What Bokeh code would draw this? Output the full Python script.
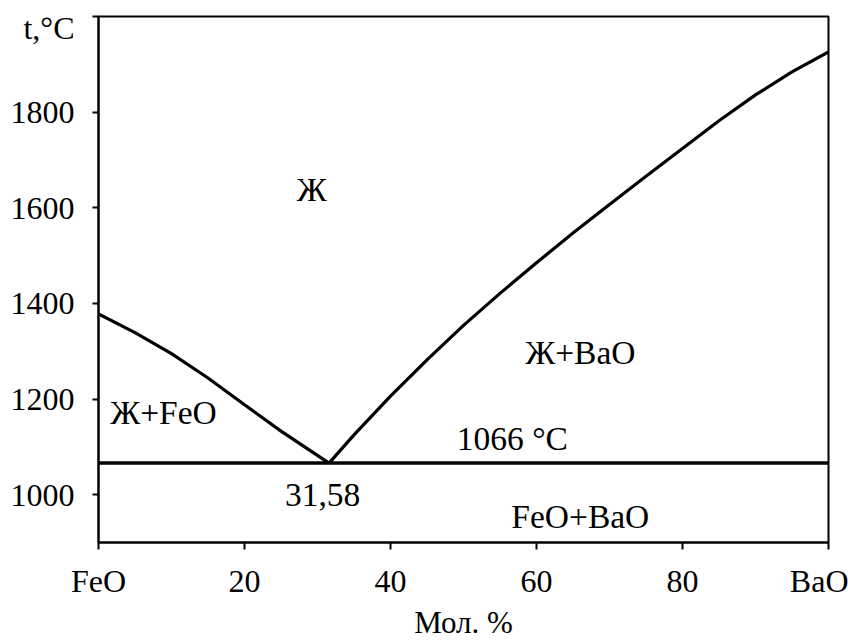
from bokeh.plotting import figure
from bokeh.models import Range1d, FixedTicker, ColumnDataSource
from bokeh.core.properties import value
from bokeh.embed import file_html
from bokeh.resources import INLINE

# ---- data ----
feo_liq_x = [0, 5, 10, 15, 20, 25, 31.58]
feo_liq_t = [1378, 1339, 1295, 1244, 1188, 1133, 1066]
bao_liq_x = [31.58, 35, 40, 45, 50, 55, 60, 65, 70, 75, 80, 85, 90, 95, 100]
bao_liq_t = [1066, 1125, 1206, 1282, 1354, 1421, 1485, 1547, 1607, 1666, 1724, 1782, 1836, 1884, 1926]
eutectic_x = [0, 100]
eutectic_t = [1066, 1066]
x_ticks = [0, 20, 40, 60, 80, 100]
x_tick_labels = ["FeO", "20", "40", "60", "80", "BaO"]
y_ticks = [1000, 1200, 1400, 1600, 1800, 2000]
y_label_ticks = [1000, 1200, 1400, 1600, 1800, 1975]
y_tick_labels = ["1000", "1200", "1400", "1600", "1800", "t,°C"]
x_title = "Мол. %"
region_text = ["Ж", "Ж+BaO", "Ж+FeO", "1066 °C", "31,58", "FeO+BaO"]
region_x = [29.2, 66.0, 8.9, 56.7, 30.7, 66.0]
region_t = [1638, 1297, 1171, 1118, 1000, 954]

FONT = "'Liberation Serif', 'Times New Roman', serif"

p = figure(width=848, height=643, output_backend="svg", toolbar_location=None,
           x_range=Range1d(0, 100), y_range=Range1d(900, 2000),
           min_border_left=98, min_border_right=20, min_border_top=16, min_border_bottom=101)
p.grid.visible = False
p.outline_line_color = "black"
p.outline_line_width = 2
p.background_fill_color = "white"
p.border_fill_color = "white"

p.xaxis.ticker = FixedTicker(ticks=x_ticks)
p.xaxis.major_label_overrides = dict(zip(x_ticks, x_tick_labels))
# labels on major ticks, tick marks drawn as minor ticks
p.yaxis.ticker = FixedTicker(ticks=y_label_ticks, minor_ticks=y_ticks)
p.yaxis.major_label_overrides = dict(zip(y_label_ticks, y_tick_labels))
for ax in (p.xaxis, p.yaxis):
    ax.axis_line_width = 2
    ax.axis_line_color = "black"
    ax.major_tick_line_width = 2
    ax.major_tick_line_color = "black"
    ax.major_tick_in = 0
    ax.major_label_text_font = FONT
    ax.major_label_text_font_size = "32px"
    ax.major_label_text_color = "black"
p.xaxis.minor_tick_line_color = None
p.yaxis.major_tick_line_color = None
p.yaxis.major_tick_out = 6
p.yaxis.minor_tick_line_color = "black"
p.yaxis.minor_tick_line_width = 2
p.yaxis.minor_tick_in = 0
p.yaxis.minor_tick_out = 6
p.yaxis.major_label_standoff = 18
p.xaxis.major_tick_out = 7
p.xaxis.major_label_standoff = 13

p.xaxis.axis_label = x_title
p.xaxis.axis_label_text_font = FONT
p.xaxis.axis_label_text_font_size = "31px"
p.xaxis.axis_label_text_font_style = "normal"
p.xaxis.axis_label_text_color = "black"
p.xaxis.axis_label_standoff = 3

p.line(feo_liq_x, feo_liq_t, line_color="black", line_width=3.2)
p.line(bao_liq_x, bao_liq_t, line_color="black", line_width=3.2)
p.line(eutectic_x, eutectic_t, line_color="black", line_width=3.5)

src = ColumnDataSource(dict(x=region_x, y=region_t, text=region_text))
p.text(x="x", y="y", text="text", source=src, text_font=value(FONT),
       text_font_size="33.5px", text_align="center", text_baseline="middle",
       text_color="black")

open("out.html", "w").write(file_html(p, INLINE))
